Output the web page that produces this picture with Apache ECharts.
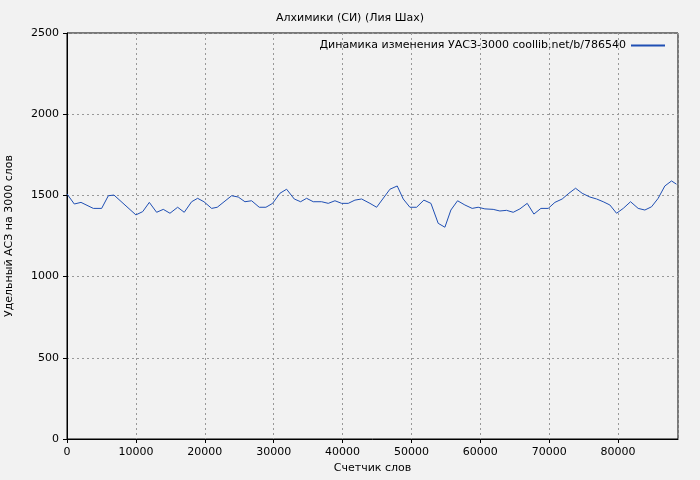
<!DOCTYPE html>
<html lang="ru">
<head>
<meta charset="UTF-8">
<title>Алхимики</title>
<script src="https://cdn.jsdelivr.net/npm/echarts@6/dist/echarts.min.js"></script>
</head>
<body style="margin:0;background:#f2f2f2;">
<div id="main" style="width:700px;height:480px;"></div>
<script>
// счетчик слов и значения УАСЗ
const words = [0,1060,2030,3820,5030,6000,6820,10000,10990,11950,13010,13980,14950,16060,17020,18090,18960,19880,21000,21810,23900,24860,25830,26800,27910,28880,29850,30910,31880,32990,33910,34780,35750,36960,37930,38900,39870,40830,41800,42770,43980,44950,46880,47940,48810,49780,50750,51810,52830,53890,54860,55730,56700,57760,58820,59690,60660,61870,62840,63810,64780,65750,66810,67780,68800,69860,70830,71890,72860,73830,74790,75910,76880,77840,78810,79780,80750,81810,82920,83890,84860,85820,86790,87760,88480];
const uasz = [1509,1447,1457,1420,1420,1498,1502,1380,1400,1457,1396,1414,1390,1427,1396,1461,1482,1461,1420,1427,1498,1490,1461,1467,1427,1427,1451,1513,1538,1478,1461,1482,1461,1461,1451,1467,1451,1451,1471,1478,1451,1427,1538,1558,1478,1427,1427,1471,1451,1328,1304,1410,1467,1441,1420,1427,1417,1414,1404,1408,1396,1417,1451,1385,1420,1420,1457,1478,1513,1544,1513,1490,1478,1461,1441,1390,1420,1461,1420,1410,1430,1482,1558,1589,1569];

const chart = echarts.init(document.getElementById('main'));
const font = 'DejaVu Sans';
chart.setOption({
    backgroundColor: '#f2f2f2',
    animation: false,
    textStyle: { fontFamily: font },
    title: {
        text: 'Алхимики (СИ) (Лия Шах)',
        left: 'center', top: 8,
        textStyle: { fontSize: 11, fontWeight: 'normal', color: '#000', fontFamily: font }
    },
    legend: {
        right: 30, top: 35, align: 'right',
        itemWidth: 34, itemHeight: 2,
        icon: 'rect',
        textStyle: { fontSize: 11, color: '#000', fontFamily: font },
        data: ['Динамика изменения УАСЗ-3000 coollib.net/b/786540']
    },
    grid: { left: 67, right: 22, top: 33, bottom: 41, outerBoundsMode: 'none', containLabel: false,
        show: true, borderColor: '#000', borderWidth: 1, backgroundColor: 'transparent' },
    xAxis: {
        type: 'value', min: 0, max: 88700, interval: 10000,
        name: 'Счетчик слов', nameLocation: 'middle', nameGap: 22,
        nameTextStyle: { fontSize: 11, color: '#000' },
        axisLine: { lineStyle: { color: '#000' } },
        axisTick: { lineStyle: { color: '#000' }, length: 4 },
        axisLabel: { color: '#000', fontSize: 11, showMaxLabel: false, formatter: v => String(v) },
        splitLine: { lineStyle: { color: '#999', type: [2, 3] } }
    },
    yAxis: {
        type: 'value', min: 0, max: 2500, interval: 500,
        name: 'Удельный АСЗ на 3000 слов', nameLocation: 'middle', nameGap: 52,
        nameTextStyle: { fontSize: 11, color: '#000' },
        axisLine: { show: true, lineStyle: { color: '#000' } },
        axisTick: { show: true, lineStyle: { color: '#000' }, length: 4 },
        axisLabel: { color: '#000', fontSize: 11, formatter: v => String(v) },
        splitLine: { lineStyle: { color: '#999', type: [2, 3] } }
    },
    series: [{
        name: 'Динамика изменения УАСЗ-3000 coollib.net/b/786540',
        type: 'line',
        data: words.map((w, i) => [w, uasz[i]]),
        showSymbol: false,
        lineStyle: { color: '#1f4fb4', width: 1 },
        itemStyle: { color: '#1f4fb4' }
    }]
});
</script>
</body>
</html>
